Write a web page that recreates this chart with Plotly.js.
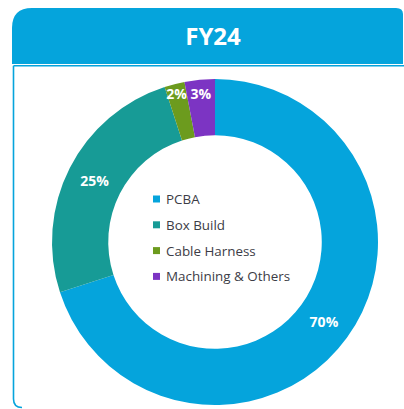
<!DOCTYPE html>
<html>
<head>
<meta charset="utf-8">
<script src="https://cdn.plot.ly/plotly-3.0.1.min.js"></script>
<style>html,body{margin:0;padding:0;background:#fff;}#chart{width:404px;height:409px;}</style>
</head>
<body>
<div id="chart"></div>
<script>
// ---- data ----
var title = 'FY24';
var categories = ['PCBA', 'Box Build', 'Cable Harness', 'Machining & Others'];
var shares = [70, 25, 2, 3];
var sliceColors = ['#05A4DC', '#179B96', '#6C9B1E', '#7C34C3'];

// ---- layout helpers (pixel -> paper) ----
var W = 404, H = 409;
function px(x) { return x / W; }
function py(y) { return 1 - y / H; }

var headerBlue = '#05A4DC';
var shapes = [];
// header band with rounded top-left corner
shapes.push({
  type: 'path', xref: 'paper', yref: 'paper', layer: 'below',
  path: 'M ' + px(12) + ',' + py(64) +
        ' L ' + px(12) + ',' + py(28) +
        ' Q ' + px(12) + ',' + py(8) + ' ' + px(32) + ',' + py(8) +
        ' L ' + px(396) + ',' + py(8) +
        ' Q ' + px(403) + ',' + py(8) + ' ' + px(403) + ',' + py(14) +
        ' L ' + px(403) + ',' + py(64) + ' Z',
  fillcolor: headerBlue, line: {width: 0}
});
// body border: top line, left line, rounded bottom-left corner
shapes.push({
  type: 'line', xref: 'paper', yref: 'paper', layer: 'below',
  x0: px(13.5), x1: 1, y0: py(65.8), y1: py(65.8),
  line: {color: headerBlue, width: 1.6}
});
shapes.push({
  type: 'line', xref: 'paper', yref: 'paper', layer: 'below',
  x0: px(13.5), x1: px(13.5), y0: py(65.8), y1: py(399),
  line: {color: headerBlue, width: 1.6}
});
shapes.push({
  type: 'path', xref: 'paper', yref: 'paper', layer: 'below',
  path: 'M ' + px(13.5) + ',' + py(399) +
        ' Q ' + px(13.5) + ',' + py(407.5) + ' ' + px(22) + ',' + py(407.5),
  fillcolor: 'rgba(0,0,0,0)',
  line: {color: headerBlue, width: 1.6}
});

// legend inside the hole
var annotations = [];
var legendY0 = 199, legendStep = 25.8;
categories.forEach(function (c, i) {
  var yc = legendY0 + i * legendStep;
  shapes.push({
    type: 'rect', xref: 'paper', yref: 'paper',
    x0: px(153), x1: px(160), y0: py(yc - 3.5), y1: py(yc + 3.5),
    fillcolor: sliceColors[i], line: {width: 0}
  });
  annotations.push({
    xref: 'paper', yref: 'paper', x: px(164), y: py(yc),
    xanchor: 'left', yanchor: 'middle', showarrow: false,
    text: c, font: {family: 'Open Sans, sans-serif', size: 13.4, color: '#3c3c46'}
  });
});

var trace = {
  type: 'pie',
  labels: categories,
  values: shares,
  sort: false,
  direction: 'clockwise',
  rotation: 0,
  hole: 0.655,
  marker: {colors: sliceColors, line: {width: 0}},
  texttemplate: '%{percent:.0%}',
  textposition: 'inside',
  insidetextorientation: 'horizontal',
  textfont: {family: 'Open Sans, sans-serif', size: 14, color: '#ffffff', weight: 'bold'},
  showlegend: false,
  hoverinfo: 'label+percent',
  domain: {x: [px(52), px(378)], y: [py(405), py(79)]}
};

var layout = {
  width: W, height: H,
  margin: {l: 0, r: 0, t: 0, b: 0},
  paper_bgcolor: '#ffffff',
  plot_bgcolor: '#ffffff',
  showlegend: false,
  uniformtext: {minsize: 14, mode: 'show'},
  title: {
    text: '<b>' + title + '</b>',
    x: px(213), xanchor: 'center',
    y: py(37), yanchor: 'middle',
    xref: 'paper', yref: 'paper',
    font: {family: 'Open Sans, sans-serif', size: 24, color: '#ffffff'}
  },
  shapes: shapes,
  annotations: annotations
};

Plotly.newPlot('chart', [trace], layout, {displayModeBar: false, staticPlot: true});
</script>
</body>
</html>
